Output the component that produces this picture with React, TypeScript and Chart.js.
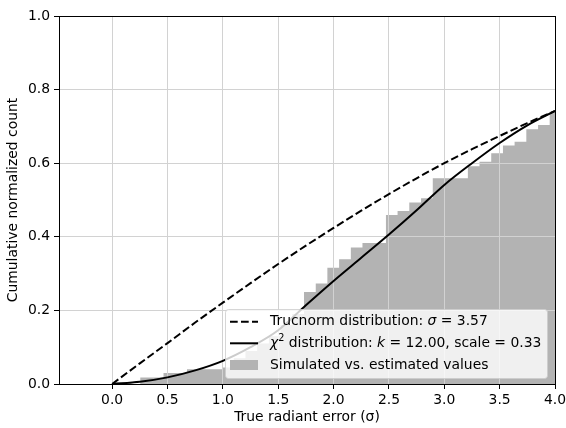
import React, { useEffect, useRef } from "react";
import { Chart, registerables } from "chart.js";

Chart.register(...registerables);

const FONT = "'DejaVu Sans', 'Liberation Sans', sans-serif";
const FS = 13.9;

// Cumulative histogram: bin left edges (last value = right edge of final bin)
const binEdges = [
  0.253, 0.359, 0.464, 0.57, 0.676, 0.782, 0.887, 0.993, 1.099, 1.204,
  1.31, 1.416, 1.521, 1.627, 1.733, 1.839, 1.944, 2.05, 2.156, 2.261,
  2.367, 2.473, 2.578, 2.684, 2.79, 2.896, 3.001, 3.107, 3.213, 3.318,
  3.424, 3.53, 3.635, 3.741, 3.847, 3.952, 4.058,
];
const binHeights = [
  0.018, 0.018, 0.03, 0.03, 0.04, 0.04, 0.04, 0.045, 0.07, 0.09,
  0.11, 0.13, 0.16, 0.19, 0.25, 0.273, 0.316, 0.339, 0.371, 0.383,
  0.383, 0.459, 0.47, 0.493, 0.505, 0.559, 0.559, 0.559, 0.592, 0.604,
  0.627, 0.648, 0.658, 0.692, 0.704, 0.74,
];

// Curves
const curveX = [0, 0.25, 0.5, 0.75, 1.0, 1.25, 1.5, 1.75, 2.0, 2.25, 2.5, 2.75, 3.0, 3.25, 3.5, 3.75, 4.0];
const truncnormY = [0, 0.056, 0.111, 0.167, 0.221, 0.274, 0.326, 0.376, 0.424, 0.471, 0.516, 0.559, 0.6, 0.638, 0.674, 0.709, 0.742];
const chi2Y = [0, 0.006, 0.018, 0.037, 0.063, 0.1, 0.146, 0.214, 0.28, 0.343, 0.406, 0.472, 0.541, 0.6, 0.655, 0.703, 0.742];

const xTickValues = [0, 0.5, 1.0, 1.5, 2.0, 2.5, 3.0, 3.5, 4.0];
const yTickValues = [0, 0.2, 0.4, 0.6, 0.8, 1.0];

const xLabel = "True radiant error (σ)";
const yLabel = "Cumulative normalized count";

const HIST_COLOR = "#b3b3b3";

type Run = { t: string; italic?: boolean; sup?: boolean };
const legendRows: { kind: string; runs: Run[] }[] = [
  {
    kind: "dash",
    runs: [{ t: "Trucnorm distribution: " }, { t: "σ", italic: true }, { t: " = 3.57" }],
  },
  {
    kind: "line",
    runs: [
      { t: "χ", italic: true },
      { t: "2", sup: true },
      { t: " distribution: " },
      { t: "k", italic: true },
      { t: " = 12.00, scale = 0.33" },
    ],
  },
  { kind: "patch", runs: [{ t: "Simulated vs. estimated values" }] },
];

const al = (v: number) => Math.round(v - 0.5) + 0.5;

const mplPlugin = {
  id: "mplStyle",
  afterDatasetDraw(chart: any, args: any) {
    if (args.index !== 0) return;
    const { ctx, chartArea: a, scales } = chart;
    ctx.save();
    ctx.strokeStyle = "#d2d2d2";
    ctx.lineWidth = 1;
    ctx.beginPath();
    for (const v of xTickValues) {
      const px = al(scales.x.getPixelForValue(v));
      ctx.moveTo(px, a.top);
      ctx.lineTo(px, a.bottom);
    }
    for (const v of yTickValues) {
      const py = al(scales.y.getPixelForValue(v));
      ctx.moveTo(a.left, py);
      ctx.lineTo(a.right, py);
    }
    ctx.stroke();
    ctx.restore();
  },
  afterDatasetsDraw(chart: any) {
    const { ctx, chartArea: a } = chart;
    ctx.save();
    ctx.strokeStyle = "#000";
    ctx.lineWidth = 1;
    const l = al(a.left), r = al(a.right), t = al(a.top), b = al(a.bottom);
    ctx.strokeRect(l, t, r - l, b - t);
    ctx.restore();
  },
  afterDraw(chart: any) {
    const { ctx } = chart;
    const bx = 225, by = 309, bw = 322, bh = 69;
    ctx.save();
    ctx.beginPath();
    ctx.roundRect(bx + 0.5, by + 0.5, bw, bh, 3);
    ctx.fillStyle = "rgba(255,255,255,0.8)";
    ctx.fill();
    ctx.strokeStyle = "rgba(204,204,204,0.8)";
    ctx.lineWidth = 1;
    ctx.stroke();

    const rowY = [321.7, 343.3, 365];
    const hx0 = 230, hx1 = 258, tx = 270;
    legendRows.forEach((row, i) => {
      const y = rowY[i];
      if (row.kind === "dash" || row.kind === "line") {
        ctx.beginPath();
        ctx.setLineDash(row.kind === "dash" ? [7.7, 3.3] : []);
        ctx.strokeStyle = "#000";
        ctx.lineWidth = 2;
        ctx.moveTo(hx0, y);
        ctx.lineTo(hx1, y);
        ctx.stroke();
        ctx.setLineDash([]);
      } else {
        ctx.fillStyle = HIST_COLOR;
        ctx.fillRect(hx0, y - 5, hx1 - hx0, 10);
      }
      let x = tx;
      ctx.fillStyle = "#000";
      ctx.textBaseline = "middle";
      ctx.textAlign = "left";
      for (const run of row.runs) {
        const size = run.sup ? 9.7 : FS;
        ctx.font = `${run.italic ? "italic " : ""}${size}px ${FONT}`;
        ctx.fillText(run.t, x, run.sup ? y - 5 : y);
        x += ctx.measureText(run.t).width;
      }
    });
    ctx.restore();
  },
};

export default function App() {
  const ref = useRef<HTMLCanvasElement | null>(null);

  useEffect(() => {
    if (!ref.current) return;
    const histData = binEdges.map((x, i) => ({
      x,
      y: binHeights[Math.min(i, binHeights.length - 1)],
    }));
    const tData = curveX.map((x, i) => ({ x, y: truncnormY[i] }));
    const cData = curveX.map((x, i) => ({ x, y: chi2Y[i] }));

    const tickFont = { family: FONT, size: FS };

    const chart = new Chart(ref.current, {
      type: "line",
      data: {
        datasets: [
          {
            label: "Simulated vs. estimated values",
            data: histData,
            stepped: "before",
            fill: "origin",
            backgroundColor: HIST_COLOR,
            borderColor: "rgba(0,0,0,0)",
            borderWidth: 0,
            pointRadius: 0,
            order: 3,
          },
          {
            label: "Trucnorm distribution",
            data: tData,
            borderColor: "#000",
            borderWidth: 2,
            borderDash: [7.7, 3.3],
            cubicInterpolationMode: "monotone",
            pointRadius: 0,
            fill: false,
            order: 2,
          },
          {
            label: "chi2 distribution",
            data: cData,
            borderColor: "#000",
            borderWidth: 2,
            cubicInterpolationMode: "monotone",
            pointRadius: 0,
            fill: false,
            order: 1,
          },
        ],
      } as any,
      options: {
        animation: false,
        responsive: false,
        devicePixelRatio: 1,
        layout: { padding: { left: 0, right: 11, top: 16, bottom: 0 } },
        plugins: {
          legend: { display: false },
          tooltip: { enabled: false },
        },
        scales: {
          x: {
            type: "linear",
            min: -0.48,
            max: 4.0,
            afterBuildTicks: (s: any) => {
              s.ticks = xTickValues.map((v) => ({ value: v }));
            },
            afterFit: (s: any) => {
              s.height = 44;
              s.paddingLeft = 0;
              s.paddingRight = 0;
            },
            grid: {
              color: "rgba(0,0,0,0)",
              drawOnChartArea: false,
              drawTicks: true,
              tickLength: 5,
              tickColor: "#000",
              tickWidth: 1,
            },
            border: { display: false },
            ticks: {
              autoSkip: false,
              maxRotation: 0,
              padding: 3,
              color: "#000",
              font: tickFont,
              callback: (v: any) => Number(v).toFixed(1),
            },
            title: {
              display: true,
              text: xLabel,
              color: "#000",
              font: tickFont,
              padding: { top: 0, bottom: 2 },
            },
          },
          y: {
            type: "linear",
            min: 0,
            max: 1,
            afterBuildTicks: (s: any) => {
              s.ticks = yTickValues.map((v) => ({ value: v }));
            },
            afterFit: (s: any) => {
              s.width = 59;
              s.paddingTop = 0;
              s.paddingBottom = 0;
            },
            grid: {
              color: "rgba(0,0,0,0)",
              drawOnChartArea: false,
              drawTicks: true,
              tickLength: 5,
              tickColor: "#000",
              tickWidth: 1,
            },
            border: { display: false },
            ticks: {
              padding: 4,
              color: "#000",
              font: tickFont,
              callback: (v: any) => Number(v).toFixed(1),
            },
            title: {
              display: true,
              text: yLabel,
              color: "#000",
              font: tickFont,
              padding: { top: 5, bottom: 0 },
            },
          },
        },
      } as any,
      plugins: [mplPlugin as any],
    });
    return () => chart.destroy();
  }, []);

  return (
    <div style={{ position: "absolute", left: 0, top: 0, width: 566, height: 428, background: "#fff" }}>
      <canvas ref={ref} width={566} height={428} style={{ display: "block", width: 566, height: 428 }} />
    </div>
  );
}
